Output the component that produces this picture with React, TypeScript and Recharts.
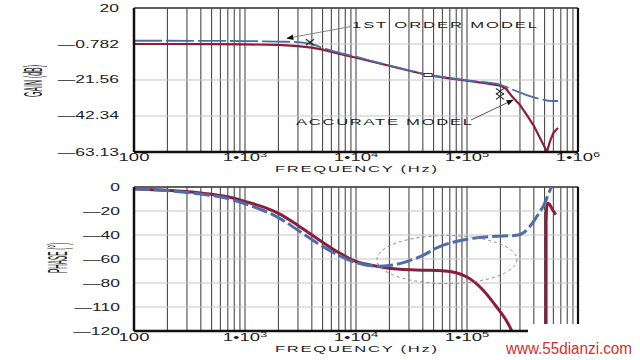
import React from "react";
import {
  CartesianGrid,
  Line,
  LineChart,
  ReferenceDot,
  ReferenceLine,
  XAxis,
  YAxis,
} from "recharts";

// frequency axis (Hz, log)
const freqTicks = [100, 1e3, 1e4, 1e5, 1e6];
const freqTickBase = ["100", "1•10", "1•10", "1•10", "1•10"];
const freqTickExp = ["", "3", "4", "5", "6"];
const gridFreqs = [
  200, 300, 400, 500, 600, 700, 800, 900, 1000,
  2000, 3000, 4000, 5000, 6000, 7000, 8000, 9000, 10000,
  20000, 30000, 40000, 50000, 60000, 70000, 80000, 90000, 100000,
  200000, 300000, 400000, 500000, 600000, 700000, 800000, 900000,
];

// gain panel
const gainTicks = [20, -0.782, -21.56, -42.34, -63.13];
const gainTickLabels = ["20", "—0.782", "—21.56", "—42.34", "—63.13"];
const gainFreqs = [
  100, 200, 500, 1000, 2000, 3000, 4000, 5000, 7000, 10000, 15000, 25000, 45000,
  70000, 100000, 150000, 200000, 225000, 250000, 300000, 350000, 400000, 450000,
  500000, 525000, 560000, 600000, 660000,
];
const gainAccurate = [
  -0.78, -0.78, -0.8, -1.0, -1.3, -2.0, -2.9, -4.0, -6.3, -8.7, -11.4, -14.9, -18.8,
  -20.6, -22.0, -23.5, -24.8, -26.6, -30.5, -35.9, -42.3, -48.0, -54.4,
  -60.2, -63.1, -56.8, -52.1, -49.2,
];
const gainFirstOrder = [
  1.1, 1.1, 1.0, 0.9, 0.6, 0.3, -0.9, -3.0, -5.7, -8.1, -11.2, -14.7, -18.7,
  -20.4, -21.7, -23.0, -24.3, -25.5, -26.8, -28.8, -30.4, -31.6, -32.5,
  -33.1, -33.4, -33.6, -33.7, -33.7,
];
const crossFreqs = [3850, 198000];
const crossGains = [0.2, -29.6];
const boxFreq = 44600;
const boxGain = -18.7;

// phase panel
const phaseTicks = [0, -20, -40, -60, -80, -100, -120];
const phaseTickLabels = ["0", "—20", "—40", "—60", "—80", "—110", "—120"];
const phaseAccFreqs = [
  100, 200, 400, 700, 1000, 1500, 2000, 3000, 5000, 7000, 10000, 15000, 25000,
  40000, 60000, 80000, 100000, 140000, 185000, 230000, 270000, 320000, 400000, 500000,
];
const phaseAccurate = [
  -1.7, -2.8, -5.0, -8.2, -12, -17, -22, -32, -46, -54.7, -62, -65.8, -68.6,
  -69.3, -69.8, -71.5, -75, -86, -100, -112.5, -125, -140, -170, -210,
];
const phaseWrapFreqs = [515000, 516000, 522000, 530000, 540000, 555000, 575000, 600000, 630000];
const phaseWrap = [-240, -30, -17.5, -14.2, -13.6, -14.6, -17, -20, -23];
const phaseFoFreqs = [
  100, 200, 400, 700, 1000, 1500, 2000, 3000, 5000, 7000, 10000, 16000, 20000,
  30000, 40000, 54000, 75000, 100000, 160000, 280000, 330000, 400000, 450000,
  490000, 530000, 575000,
];
const phaseFirstOrder = [
  -1.5, -3.0, -5.9, -9.6, -14, -20, -25.5, -36, -49.5, -56.9, -63, -66, -65.5,
  -61.5, -57, -50.5, -46, -43.5, -41.3, -40.3, -37.5, -28.5, -21,
  -15.5, -8, 0,
];
const circleFreq = 66000;
const circlePhase = -60.5;

const FONT = "'Liberation Sans', Arial, Helvetica, sans-serif";
const INK = "#1d1d1d";
const RED = "#8c1d3d";
const BLUE = "#4f6ca8";

const zip = (xs: number[], ys: number[]) => xs.map((f, i) => ({ f, v: ys[i] }));
const gainAccData = zip(gainFreqs, gainAccurate);
const gainFoData = zip(gainFreqs, gainFirstOrder);
const phaseAccData = zip(phaseAccFreqs, phaseAccurate);
const phaseWrapData = zip(phaseWrapFreqs, phaseWrap);
const phaseFoData = zip(phaseFoFreqs, phaseFirstOrder);

// the last label of the phase axis sits under the pasted-over corner of the scan
function FreqTick({ x, y, payload, dy, hideLast }: any) {
  const i = freqTicks.indexOf(payload.value);
  if (i < 0 || (hideLast && i === freqTicks.length - 1)) return null;
  return (
    <g transform={`translate(${x},${y + dy}) scale(1.85,1)`}>
      <text textAnchor="middle" dominantBaseline="central" fontSize={10} fill={INK} fontFamily={FONT}>
        {freqTickBase[i]}
        {freqTickExp[i] ? (
          <tspan fontSize={7} dy={-4}>
            {freqTickExp[i]}
          </tspan>
        ) : null}
      </text>
    </g>
  );
}

function ValueTick({ x, y, payload, ticks, labels, dx }: any) {
  const i = ticks.indexOf(payload.value);
  if (i < 0) return null;
  return (
    <g transform={`translate(${x - dx},${y}) scale(1.75,1)`}>
      <text textAnchor="end" dominantBaseline="central" fontSize={10} fill={INK} fontFamily={FONT}>
        {labels[i]}
      </text>
    </g>
  );
}

function Stretch({ x, y, text, width, size = 10, sx = 1.75, anchor = "start" }: any) {
  return (
    <g transform={`translate(${x},${y}) scale(${sx},1)`}>
      <text
        fontSize={size}
        textAnchor={anchor}
        dominantBaseline="central"
        fill={INK}
        fontFamily={FONT}
        textLength={width ? width / sx : undefined}
        lengthAdjust="spacing"
      >
        {text}
      </text>
    </g>
  );
}

function Upright({ x, y, text, length, sy }: any) {
  return (
    <g transform={`translate(${x},${y}) rotate(-90) scale(1,${sy})`}>
      <text
        fontSize={10}
        textAnchor="middle"
        dominantBaseline="central"
        fill={INK}
        fontFamily={FONT}
        textLength={length}
        lengthAdjust="spacingAndGlyphs"
      >
        {text}
      </text>
    </g>
  );
}

const crossShape = (double: boolean) => (p: any) => {
  const { cx, cy } = p;
  const offs = double ? [-2.5, 2.5] : [0];
  return (
    <g stroke="#222" strokeWidth={1.1}>
      {offs.map((o) => (
        <g key={o}>
          <line x1={cx - 4} y1={cy + o - 3} x2={cx + 4} y2={cy + o + 3} />
          <line x1={cx - 4} y1={cy + o + 3} x2={cx + 4} y2={cy + o - 3} />
        </g>
      ))}
    </g>
  );
};

const boxShape = (p: any) => (
  <rect x={p.cx - 4} y={p.cy - 1.5} width={8} height={3} fill="#fff" stroke="#222" strokeWidth={0.9} />
);

const ellipseShape = (p: any) => (
  <ellipse cx={p.cx} cy={p.cy} rx={70} ry={24} fill="none" stroke="#8a8a8a" strokeWidth={1} strokeDasharray="3 3" />
);

const axisLine = { stroke: "#111", strokeWidth: 2.5 };

export default function App() {
  return (
    <div style={{ position: "absolute", left: 0, top: 0, width: 640, height: 360, background: "#fff", fontFamily: FONT }}>
      <div style={{ position: "absolute", left: 0, top: 0 }}>
        <LineChart width={640} height={172} margin={{ top: 8, right: 62, bottom: 0, left: 0 }}>
          <CartesianGrid horizontal={false} verticalValues={gridFreqs} stroke="#4a4a4a" strokeWidth={1.1} />
          <CartesianGrid vertical={false} stroke="#c4c4c4" strokeWidth={1} />
          <XAxis
            dataKey="f"
            type="number"
            scale="log"
            domain={[100, 1e6]}
            allowDataOverflow
            ticks={freqTicks}
            interval={0}
            tickLine={false}
            tickSize={0}
            tickMargin={0}
            height={20}
            axisLine={axisLine}
            tick={(p: any) => <FreqTick {...p} dy={6} />}
          />
          <YAxis
            type="number"
            domain={[-63.13, 20]}
            allowDataOverflow
            ticks={gainTicks}
            interval={0}
            width={134}
            tickLine={false}
            tickSize={0}
            tickMargin={0}
            axisLine={axisLine}
            tick={(p: any) => <ValueTick {...p} ticks={gainTicks} labels={gainTickLabels} dx={15} />}
          />
          <ReferenceLine y={20} stroke="#333" strokeWidth={1.3} />
          <ReferenceLine x={1e6} stroke="#111" strokeWidth={2.2} />
          <Line data={gainAccData} dataKey="v" type="linear" stroke={RED} strokeWidth={2.2} dot={false} activeDot={false} isAnimationActive={false} />
          <Line data={gainFoData} dataKey="v" type="monotone" stroke={BLUE} strokeWidth={1.8} strokeDasharray="28 4" dot={false} activeDot={false} isAnimationActive={false} />
          {crossFreqs.map((f, i) => (
            <ReferenceDot key={f} x={f} y={crossGains[i]} shape={crossShape(i === 1)} />
          ))}
          <ReferenceDot x={boxFreq} y={boxGain} shape={boxShape} />
        </LineChart>
      </div>

      <div style={{ position: "absolute", left: 0, top: 172 }}>
        <LineChart width={640} height={188} margin={{ top: 15, right: 62, bottom: 0, left: 0 }}>
          <CartesianGrid horizontal={false} verticalValues={gridFreqs} stroke="#4a4a4a" strokeWidth={1.1} />
          <CartesianGrid vertical={false} stroke="#c4c4c4" strokeWidth={1} />
          <XAxis
            dataKey="f"
            type="number"
            scale="log"
            domain={[100, 1e6]}
            allowDataOverflow
            ticks={freqTicks}
            interval={0}
            tickLine={false}
            tickSize={0}
            tickMargin={0}
            height={29}
            axisLine={axisLine}
            tick={(p: any) => <FreqTick {...p} dy={7} hideLast />}
          />
          <YAxis
            type="number"
            domain={[-120, 0]}
            allowDataOverflow
            ticks={phaseTicks}
            interval={0}
            width={134}
            tickLine={false}
            tickSize={0}
            tickMargin={0}
            axisLine={axisLine}
            tick={(p: any) => <ValueTick {...p} ticks={phaseTicks} labels={phaseTickLabels} dx={14} />}
          />
          <ReferenceLine y={0} stroke="#333" strokeWidth={1.3} />
          <ReferenceLine x={1e6} stroke="#111" strokeWidth={2.2} />
          <ReferenceDot x={circleFreq} y={circlePhase} shape={ellipseShape} />
          <Line data={phaseAccData} dataKey="v" type="monotone" stroke={RED} strokeWidth={3} dot={false} activeDot={false} isAnimationActive={false} />
          <Line data={phaseWrapData} dataKey="v" type="monotone" stroke={RED} strokeWidth={3} dot={false} activeDot={false} isAnimationActive={false} />
          <Line data={phaseFoData} dataKey="v" type="monotone" stroke={BLUE} strokeWidth={3} strokeDasharray="16 4" dot={false} activeDot={false} isAnimationActive={false} />
        </LineChart>
      </div>

      <svg width={640} height={360} style={{ position: "absolute", left: 0, top: 0, pointerEvents: "none" }}>
        <defs>
          <marker id="ah" viewBox="0 0 10 10" refX="9" refY="5" markerUnits="userSpaceOnUse" markerWidth="9" markerHeight="7" orient="auto">
            <path d="M0,1 L10,5 L0,9 z" fill="#111" />
          </marker>
        </defs>
        <Upright x={33} y={81} text="GAIN (dB)" length={32} sy={2.5} />
        <Upright x={58} y={258} text="PHASE (°)" length={30} sy={2.7} />
        <Stretch x={356} y={168.5} text="FREQUENCY (Hz)" width={162} size={9.5} anchor="middle" />
        <Stretch x={356} y={348.5} text="FREQUENCY (Hz)" width={162} size={9.5} anchor="middle" />
        <Stretch x={352} y={25} text="1ST ORDER MODEL" width={185} size={9.5} />
        <Stretch x={296} y={121.5} text="ACCURATE MODEL" width={176} size={9.5} />
        <line x1={351} y1={26.5} x2={287} y2={38.3} stroke="#777" strokeWidth={0.9} markerEnd="url(#ah)" />
        <line x1={471} y1={120} x2={513} y2={100} stroke="#444" strokeWidth={0.9} markerEnd="url(#ah)" />
        <rect x={528} y={324} width={112} height={36} fill="#fff" />
        <text x={506} y={354} fontSize={16} fill="#d0302f" fontFamily={FONT} textLength={126} lengthAdjust="spacingAndGlyphs">
          www.55dianzi.com
        </text>
      </svg>
    </div>
  );
}
